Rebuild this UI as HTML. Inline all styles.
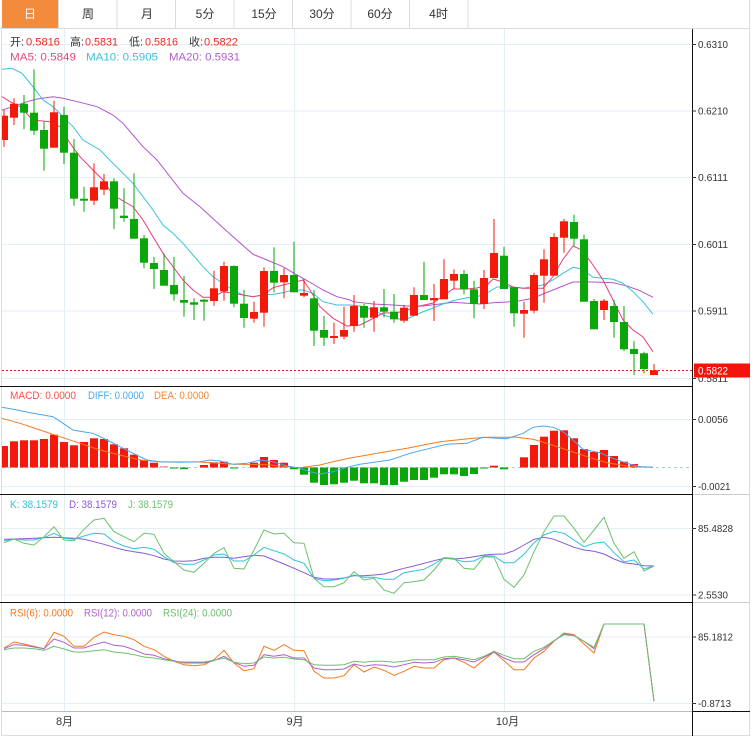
<!DOCTYPE html>
<html><head><meta charset="utf-8"><style>
html,body{margin:0;padding:0;background:#fff;}
svg{display:block;}
text{font-family:"Liberation Sans","Noto Sans CJK SC",sans-serif;}
</style></head><body>
<svg width="756" height="741" viewBox="0 0 756 741" xmlns="http://www.w3.org/2000/svg">
<rect x="0" y="0" width="756" height="741" fill="#fff"/>
<!-- tabs -->
<rect x="2" y="0" width="56.5" height="28" fill="#f38b3d"/>
<g stroke="#dcdcdc" stroke-width="1">
<line x1="58.5" y1="0" x2="58.5" y2="28"/><line x1="117" y1="0" x2="117" y2="28"/><line x1="175.5" y1="0" x2="175.5" y2="28"/><line x1="234" y1="0" x2="234" y2="28"/><line x1="292.5" y1="0" x2="292.5" y2="28"/><line x1="351" y1="0" x2="351" y2="28"/><line x1="409.5" y1="0" x2="409.5" y2="28"/><line x1="468" y1="0" x2="468" y2="28"/>
<line x1="0" y1="28.5" x2="750" y2="28.5"/>
<line x1="749.5" y1="0" x2="749.5" y2="736"/>
<line x1="1.5" y1="28" x2="1.5" y2="736"/>
<line x1="1" y1="735.5" x2="750" y2="735.5"/>
</g>
<g font-size="12" fill="#333" text-anchor="middle">
<text x="30" y="18" fill="#fff">日</text><text x="88" y="18">周</text><text x="147" y="18">月</text><text x="205" y="18">5分</text><text x="264" y="18">15分</text><text x="322" y="18">30分</text><text x="380" y="18">60分</text><text x="438.5" y="18">4时</text>
</g>
<!-- grid -->
<g stroke="#e4eef5" stroke-width="1">
<line x1="2" y1="44.5" x2="692" y2="44.5"/><line x1="2" y1="111" x2="692" y2="111"/><line x1="2" y1="177.5" x2="692" y2="177.5"/><line x1="2" y1="244.5" x2="692" y2="244.5"/><line x1="2" y1="311" x2="692" y2="311"/><line x1="2" y1="378.5" x2="692" y2="378.5"/>
<line x1="2" y1="419.5" x2="692" y2="419.5"/><line x1="2" y1="486.5" x2="692" y2="486.5"/>
<line x1="2" y1="528.5" x2="692" y2="528.5"/><line x1="2" y1="595" x2="692" y2="595"/>
<line x1="2" y1="637" x2="692" y2="637"/><line x1="2" y1="703.5" x2="692" y2="703.5"/>
<line x1="64.5" y1="29" x2="64.5" y2="711"/><line x1="294.5" y1="29" x2="294.5" y2="711"/><line x1="504.5" y1="29" x2="504.5" y2="711"/>
</g>
<!-- separators -->
<g stroke="#111" stroke-width="1">
<line x1="0" y1="386.5" x2="692" y2="386.5"/><line x1="0" y1="494.5" x2="692" y2="494.5"/><line x1="0" y1="602.5" x2="692" y2="602.5"/>
<line x1="692.5" y1="29" x2="692.5" y2="736"/>
<line x1="692" y1="711.5" x2="750" y2="711.5"/>
</g>
<line x1="2" y1="711.5" x2="692" y2="711.5" stroke="#bbb"/>
<g stroke="#ccc"><line x1="693" y1="494.5" x2="750" y2="494.5"/><line x1="693" y1="602.5" x2="750" y2="602.5"/></g>
<!-- axis ticks -->
<g stroke="#333" stroke-width="1">
<line x1="692" y1="44.5" x2="696" y2="44.5"/><line x1="692" y1="111" x2="696" y2="111"/><line x1="692" y1="177.5" x2="696" y2="177.5"/><line x1="692" y1="244.5" x2="696" y2="244.5"/><line x1="692" y1="311" x2="696" y2="311"/><line x1="692" y1="378.5" x2="696" y2="378.5"/>
<line x1="692" y1="419.5" x2="696" y2="419.5"/><line x1="692" y1="486.5" x2="696" y2="486.5"/>
<line x1="692" y1="528.5" x2="696" y2="528.5"/><line x1="692" y1="595" x2="696" y2="595"/>
<line x1="692" y1="637" x2="696" y2="637"/><line x1="692" y1="703.5" x2="696" y2="703.5"/>
</g>
<g font-size="10.5" fill="#333">
<text x="698" y="48" textLength="30" lengthAdjust="spacingAndGlyphs">0.6310</text>
<text x="698" y="114.5" textLength="30" lengthAdjust="spacingAndGlyphs">0.6210</text>
<text x="698" y="181" textLength="30" lengthAdjust="spacingAndGlyphs">0.6111</text>
<text x="698" y="248" textLength="30" lengthAdjust="spacingAndGlyphs">0.6011</text>
<text x="698" y="314.5" textLength="30" lengthAdjust="spacingAndGlyphs">0.5911</text>
<text x="698" y="382" textLength="30" lengthAdjust="spacingAndGlyphs">0.5811</text>
<text x="698" y="423" textLength="30" lengthAdjust="spacingAndGlyphs">0.0056</text>
<text x="698" y="490" textLength="32.5" lengthAdjust="spacingAndGlyphs">-0.0021</text>
<text x="698" y="532" textLength="35" lengthAdjust="spacingAndGlyphs">85.4828</text>
<text x="698" y="598.5" textLength="30" lengthAdjust="spacingAndGlyphs">2.5530</text>
<text x="698" y="640.5" textLength="35" lengthAdjust="spacingAndGlyphs">85.1812</text>
<text x="698" y="707" textLength="33" lengthAdjust="spacingAndGlyphs">-0.8713</text>
</g>
<!-- month labels -->
<g font-size="11" fill="#333" text-anchor="middle">
<text x="64.5" y="725">8月</text><text x="295" y="725">9月</text><text x="507.5" y="725">10月</text>
</g>
<!-- MA lines -->
<g fill="none" stroke-width="1">
<polyline stroke="#b254d0" points="2,110 13,106.7 27,101.7 37,99 53,96.7 63,98.3 80,102.3 97,106.7 113,115 123,123.3 133,135 143,146.7 157,160 170,176.7 183,193.3 200,206.7 217,222.3 233,236.7 253,254.3 267,260 283,266.7 293,272.7 303,278.3 313,284 323,290 337,296.7 350,300 353,301.7 373,304 393,305 407,306 423,306 440,304 453,302.3 467,303.3 480,304 493,302.7 507,302 520,300.7 533,298.3 543,294 553,290 563,286 573,282 593,282 613,282.7 627,286 640,290.7 653,297.3"/>
<polyline stroke="#35c4da" points="2,69.3 12,68.3 22,73.3 33,86.7 43,100 53,106.7 63,116.7 73,126.7 83,140 100,150 113,163.3 133,183.3 143,196.7 153,210 163,225 173,233.3 183,243.3 193,255 203,266.7 213,276.7 223,283.3 233,290 243,295 253,296.7 263,295 273,294.3 283,292.7 293,290 303,290 313,293.3 323,301.7 337,305 350,305 360,306 373,310 383,315 397,319 407,319 420,313 433,308 443,304 453,300.7 467,297.7 477,296.7 487,293 497,287 507,286.7 520,287.7 523,288.3 543,285 553,280 563,273.3 573,267.3 582,269 593,277.3 603,278.3 613,279.3 623,283.3 633,291.7 643,301.7 653,314.3"/>
<polyline stroke="#ea3d7a" points="2,96.7 10,101.7 20,106.7 33,120 50,121.7 60,126.7 70,143.3 80,156.7 93,170 103,180 113,195 133,206.7 143,220 153,236.7 163,253.3 173,266.7 183,280 193,290 203,297.3 213,297.3 223,291.7 233,293.3 243,295 253,296.7 263,295 273,287.7 283,285 293,282.7 303,280 310,290 320,306.7 333,318.3 347,326 360,325 370,320 383,313 397,312.7 407,310 420,306 433,303 440,298 453,289 467,289 477,288 487,285 493,279 503,282 513,287 523,288.3 543,288.3 553,276.7 563,259.3 573,246 582,250 593,265 603,280 613,300 623,320 633,330 643,337 653,351.7"/>
</g>
<!-- wicks -->
<path stroke="#f4190a" stroke-width="1" fill="none" d="M4 110V147M14 98.3V125M54 100.7V147.7M94 163.3V205M104 174V195M214 270.7V305.7M224 261.7V300.7M254 301.7V322.7M264 267.3V326.7M284 268.3V298.3M304 279V297.3M334 322.7V344M344 306.7V339.3M354 295V331.7M374 301V331.7M404 305V322.7M414 287.3V315.7M434 284V321M444 259.3V299.3M454 269.3V289.3M484 270V309M494 219V278M524 301.7V337.7M534 272.7V313.3M544 249.3V302.7M554 233.3V275.7M564 219V252.7M604 299V320M654 364V375"/>
<path stroke="#0aa60a" stroke-width="1" fill="none" d="M24 95V129.3M34 69.3V135M44 121.7V170.7M64 106.7V164M74 139V205.7M84 186.7V211.7M114 178.3V229M124 188.3V221.7M134 173.3V238.7M144 235V268.3M154 256.7V289M164 253.3V285.7M174 256.7V300.7M184 276V316.7M194 298.3V320M204 298.7V320.7M234 265.3V307.3M244 290V327.7M274 247.3V292.3M294 241.7V292.3M314 290V346M324 316V346M364 304V327.7M384 289V317.3M394 294V322.7M424 261.7V300M464 270V294.3M474 280.7V318.3M504 246.7V289M514 287.3V326.7M574 214.7V245.7M584 234.7V301.7M594 299V329.3M614 300V337.7M624 306V351M634 341V375M644 351.7V373.3"/>
<!-- red bodies -->
<g fill="#f4190a">
<rect x="2" y="115.7" width="6" height="24.3"/><rect x="10" y="103.7" width="8" height="14"/><rect x="50" y="112.3" width="8" height="35.4"/><rect x="90" y="187.3" width="8" height="13.4"/><rect x="100" y="181.3" width="8" height="8.4"/><rect x="210" y="288.3" width="8" height="12.7"/><rect x="220" y="266" width="8" height="25.3"/><rect x="250" y="312" width="8" height="6.7"/><rect x="260" y="271" width="8" height="41.7"/><rect x="280" y="275" width="8" height="7.3"/><rect x="300" y="293" width="8" height="2.7"/><rect x="330" y="336" width="8" height="2"/><rect x="340" y="330" width="8" height="6.7"/><rect x="350" y="306" width="8" height="20"/><rect x="370" y="307.3" width="8" height="10.4"/><rect x="400" y="307.7" width="8" height="13"/><rect x="410" y="295" width="8" height="20.7"/><rect x="430" y="298" width="8" height="2.3"/><rect x="440" y="279" width="8" height="20.3"/><rect x="450" y="274" width="8" height="6.7"/><rect x="480" y="278" width="8" height="26"/><rect x="490" y="253" width="8" height="25"/><rect x="520" y="310" width="8" height="3.7"/><rect x="530" y="275" width="8" height="35.7"/><rect x="540" y="259.3" width="8" height="16.4"/><rect x="550" y="237" width="8" height="38.7"/><rect x="560" y="221.3" width="8" height="16.4"/><rect x="600" y="300.7" width="8" height="9.3"/><rect x="650" y="370.3" width="8" height="4.7"/>
</g>
<!-- green bodies -->
<g fill="#0aa60a">
<rect x="20" y="103.7" width="8" height="9"/><rect x="30" y="112.7" width="8" height="18"/><rect x="40" y="130" width="8" height="18.7"/><rect x="60" y="115" width="8" height="37.7"/><rect x="70" y="152.7" width="8" height="46"/><rect x="80" y="198.7" width="8" height="2"/><rect x="110" y="181.3" width="8" height="27.4"/><rect x="120" y="215.7" width="8" height="2.3"/><rect x="130" y="219" width="8" height="19.7"/><rect x="140" y="238.3" width="8" height="24.4"/><rect x="150" y="263" width="8" height="6"/><rect x="160" y="270" width="8" height="15.7"/><rect x="170" y="285" width="8" height="9.3"/><rect x="180" y="300" width="8" height="2.7"/><rect x="190" y="302.3" width="8" height="2.4"/><rect x="200" y="299.7" width="8" height="2"/><rect x="230" y="266" width="8" height="37.7"/><rect x="240" y="303.7" width="8" height="14.3"/><rect x="270" y="271" width="8" height="11.7"/><rect x="290" y="275" width="8" height="17.3"/><rect x="310" y="298.3" width="8" height="32.4"/><rect x="320" y="330" width="8" height="7.7"/><rect x="360" y="306" width="8" height="11.7"/><rect x="380" y="307.3" width="8" height="4.4"/><rect x="390" y="311.7" width="8" height="7.6"/><rect x="420" y="295" width="8" height="5"/><rect x="460" y="274" width="8" height="15.3"/><rect x="470" y="289.3" width="8" height="14.7"/><rect x="500" y="255.7" width="8" height="33.3"/><rect x="510" y="287.3" width="8" height="26"/><rect x="570" y="222" width="8" height="16.7"/><rect x="580" y="239.3" width="8" height="62.4"/><rect x="590" y="301" width="8" height="28.3"/><rect x="610" y="306" width="8" height="16"/><rect x="620" y="322" width="8" height="27.3"/><rect x="630" y="349" width="8" height="5"/><rect x="640" y="353.3" width="8" height="15.7"/>
</g>
<!-- current price line -->
<line x1="2" y1="370.5" x2="692" y2="370.5" stroke="#f4190a" stroke-width="1" stroke-dasharray="2,2"/>
<rect x="694" y="363.5" width="56" height="14" fill="#f5120a"/>
<text x="698" y="374.5" font-size="11" fill="#fff" textLength="30" lengthAdjust="spacingAndGlyphs">0.5822</text>
<!-- main legend -->
<g font-size="11">
<text x="10" y="45.5" fill="#333">开:</text><text x="26" y="45.5" fill="#f0281e" textLength="34" lengthAdjust="spacingAndGlyphs">0.5816</text>
<text x="70" y="45.5" fill="#333">高:</text><text x="85" y="45.5" fill="#f0281e" textLength="33" lengthAdjust="spacingAndGlyphs">0.5831</text>
<text x="129" y="45.5" fill="#333">低:</text><text x="145" y="45.5" fill="#f0281e" textLength="33" lengthAdjust="spacingAndGlyphs">0.5816</text>
<text x="189" y="45.5" fill="#333">收:</text><text x="204" y="45.5" fill="#f0281e" textLength="34" lengthAdjust="spacingAndGlyphs">0.5822</text>
<text x="10" y="60.5" fill="#e8457e" textLength="66" lengthAdjust="spacingAndGlyphs">MA5: 0.5849</text>
<text x="86" y="60.5" fill="#38c2d8" textLength="72" lengthAdjust="spacingAndGlyphs">MA10: 0.5905</text>
<text x="169" y="60.5" fill="#b25ccc" textLength="71" lengthAdjust="spacingAndGlyphs">MA20: 0.5931</text>
</g>
<!-- MACD -->
<line x1="2" y1="467.5" x2="692" y2="467.5" stroke="#a8d4e4" stroke-width="1" stroke-dasharray="3,3"/>
<g fill="#f4190a">
<rect x="2" y="446" width="6" height="21.5"/><rect x="10" y="441.3" width="8" height="26.2"/><rect x="20" y="440.3" width="8" height="27.2"/><rect x="30" y="440.3" width="8" height="27.2"/><rect x="40" y="439" width="8" height="28.5"/><rect x="50" y="434.7" width="8" height="32.8"/><rect x="60" y="442" width="8" height="25.5"/><rect x="70" y="445.3" width="8" height="22.2"/><rect x="80" y="442" width="8" height="25.5"/><rect x="90" y="438.3" width="8" height="29.2"/><rect x="100" y="439" width="8" height="28.5"/><rect x="110" y="444.3" width="8" height="23.2"/><rect x="120" y="448.3" width="8" height="19.2"/><rect x="130" y="454.7" width="8" height="12.8"/><rect x="140" y="460" width="8" height="7.5"/><rect x="150" y="462.7" width="8" height="4.8"/><rect x="160" y="466" width="8" height="1.5" fill="#f8a0a0"/><rect x="200" y="465" width="8" height="2.5"/><rect x="210" y="462.3" width="8" height="5.2"/><rect x="220" y="461.7" width="8" height="5.8"/><rect x="250" y="462.7" width="8" height="4.8"/><rect x="260" y="457" width="8" height="10.5"/><rect x="270" y="460" width="8" height="7.5"/><rect x="280" y="462.7" width="8" height="4.8"/><rect x="490" y="465.7" width="8" height="1.8"/><rect x="520" y="457.3" width="8" height="10.2"/><rect x="530" y="445" width="8" height="22.5"/><rect x="540" y="436.7" width="8" height="30.8"/><rect x="550" y="430.7" width="8" height="36.8"/><rect x="560" y="430.3" width="8" height="37.2"/><rect x="570" y="438.3" width="8" height="29.2"/><rect x="580" y="449" width="8" height="18.5"/><rect x="590" y="452" width="8" height="15.5"/><rect x="600" y="450" width="8" height="17.5"/><rect x="610" y="456" width="8" height="11.5"/><rect x="620" y="461.7" width="8" height="5.8"/><rect x="630" y="464" width="8" height="3.5"/>
</g>
<g fill="#0aa60a">
<rect x="170" y="467.5" width="8" height="1"/><rect x="180" y="467.5" width="8" height="1.7"/><rect x="230" y="467.5" width="8" height="1"/><rect x="290" y="467.5" width="8" height="1.7"/><rect x="300" y="467.5" width="8" height="7.2"/><rect x="310" y="467.5" width="8" height="15.2"/><rect x="320" y="467.5" width="8" height="17.5"/><rect x="330" y="467.5" width="8" height="16.8"/><rect x="340" y="467.5" width="8" height="15.2"/><rect x="350" y="467.5" width="8" height="13.2"/><rect x="360" y="467.5" width="8" height="15.8"/><rect x="370" y="467.5" width="8" height="15.8"/><rect x="380" y="467.5" width="8" height="17.5"/><rect x="390" y="467.5" width="8" height="17.5"/><rect x="400" y="467.5" width="8" height="14.2"/><rect x="410" y="467.5" width="8" height="12.5"/><rect x="420" y="467.5" width="8" height="12.5"/><rect x="430" y="467.5" width="8" height="10.2"/><rect x="440" y="467.5" width="8" height="6.8"/><rect x="450" y="467.5" width="8" height="6.8"/><rect x="460" y="467.5" width="8" height="8.5"/><rect x="470" y="467.5" width="8" height="6.5"/><rect x="480" y="467.5" width="8" height="1"/><rect x="500" y="467.5" width="8" height="1.8"/>
</g>
<g fill="none" stroke-width="1">
<polyline stroke="#f47a20" points="2,418.3 20,423.3 40,430 60,436.7 80,443.3 100,450 120,455 140,460 160,461.7 200,462 233,464.3 267,464.7 287,466.7 300,467.7 320,465 333,461.7 349,458.3 373,454 407,448.3 440,441.7 473,438.3 487,437.3 517,437.3 533,439.3 547,443.3 567,450 587,456.7 607,462.7 627,466 653,467.3"/>
<polyline stroke="#4aa6f0" points="2,407.3 13,409.3 33,413.3 53,416.7 63,423.3 73,430 83,431.7 93,433.3 107,440 120,446.7 133,453.3 147,460 160,461.7 180,462.3 200,461.7 210,460 220,461 233,464.3 247,463.3 260,460 273,461.7 287,466 300,468.3 310,471.7 320,474 333,471.7 347,467.3 360,464.3 390,460 410,453.3 430,448.3 447,444.3 467,443.3 483,437.3 497,438.3 507,438.7 523,433.3 533,427.3 543,426 553,427.3 563,431.7 573,440 583,449.3 600,452.7 613,458.3 627,463.3 640,466.7 653,467.3"/>
</g>
<g font-size="11">
<text x="10" y="399" fill="#f05548" textLength="66" lengthAdjust="spacingAndGlyphs">MACD: 0.0000</text>
<text x="88" y="399" fill="#4aa8f0" textLength="56" lengthAdjust="spacingAndGlyphs">DIFF: 0.0000</text>
<text x="154" y="399" fill="#f08838" textLength="55" lengthAdjust="spacingAndGlyphs">DEA: 0.0000</text>
</g>
<!-- KDJ -->
<g fill="none" stroke-width="1">
<polyline stroke="#8a58d8" points="4,539.3 14,539 24,538.7 34,538.3 44,537.7 54,537.3 64,537.7 74,538.3 84,539.3 94,541.7 104,544.3 114,547.3 124,550 134,551.7 144,553.3 154,555.7 164,559 174,561 184,561.3 194,560.7 204,558.3 214,557.3 224,557.3 234,558.3 244,556.7 254,555.3 264,556 274,560 284,564 294,568.3 304,572.7 314,577.3 324,579 334,579 344,578 354,575.7 364,575.7 374,575 384,574 394,571 404,568.3 414,566 424,563.3 434,560.7 444,558.3 454,559 464,558.3 474,556.7 484,555 494,554.3 504,554 514,550.7 524,545 534,539.3 544,537.3 554,539.3 564,543.3 574,547.3 584,550 594,551.3 604,554 614,559 624,562.7 634,564 644,565.7 654,566"/>
<polyline stroke="#2ec4d8" points="4,540.7 14,539.3 24,540 34,540 44,537.7 54,533.3 64,538.3 74,539.3 84,536 94,533.3 104,534 114,541.7 124,546 134,548.7 144,547.3 154,549.3 164,556.7 174,562.7 184,564.3 194,564.3 204,560 214,555 224,554 234,561 244,561 254,555 264,547.3 274,550.7 284,554 294,560 304,563.3 314,578.3 324,580.7 334,580 344,578.3 354,575 364,577.3 374,577.3 384,579.3 394,579.3 404,572.7 414,571 424,569.3 434,564 444,558 454,559.3 464,561.7 474,561 484,556 494,556 504,562.7 514,562.7 524,554.3 534,542.7 544,535 554,531.3 564,533.3 574,540 584,546.7 594,543.3 604,542 614,552.7 624,561.7 634,560 644,569 654,566"/>
<polyline stroke="#6cc06c" points="4,542.7 14,539 24,543.3 34,545 44,536.7 54,526.7 64,540 74,540.7 84,529.3 94,520 104,518.3 114,531.7 124,536.7 134,541.7 144,533.3 154,534.3 164,553.3 174,561.7 184,570 194,572.3 204,563.3 214,553.3 224,547.7 234,568.3 244,569 254,550 264,530 274,534 284,533.3 294,542.7 304,543.3 314,578.3 324,586.7 334,586.7 344,582.7 354,571.7 364,580 374,578.3 384,590 394,593.3 404,582.7 414,581.7 424,580 434,570 444,557.7 454,558.3 464,568.3 474,569.3 484,556.7 494,557.3 504,579.3 514,587.3 524,575 534,551.7 544,531.7 554,516 564,516 574,528.3 584,542.3 594,530 604,517.3 614,543.3 624,558.3 634,551.7 644,571 654,566"/>
</g>
<g font-size="11">
<text x="10" y="508" fill="#2ec4d8" textLength="48" lengthAdjust="spacingAndGlyphs">K: 38.1579</text>
<text x="69" y="508" fill="#8a58d8" textLength="48" lengthAdjust="spacingAndGlyphs">D: 38.1579</text>
<text x="128" y="508" fill="#6cc06c" textLength="45" lengthAdjust="spacingAndGlyphs">J: 38.1579</text>
</g>
<!-- RSI -->
<g fill="none" stroke-width="1">
<polyline stroke="#f47a20" points="4,648 14,642 24,644 34,646.3 44,648.7 54,632.3 64,636.3 74,646.3 84,646.3 94,637.3 104,632 114,634.7 124,636.3 134,639.7 144,646.3 154,649.7 164,656.3 174,661.3 184,664.7 194,665.7 204,664.7 214,659.7 224,650.3 234,663 244,670.7 254,668.7 264,646.3 274,650.3 284,644.7 294,650.3 304,650.7 314,671.3 324,678 334,678 344,675.7 354,664.7 364,672 374,667 384,670.3 394,675.3 404,671.3 414,666.3 424,668 434,668 444,659.7 454,658 464,662.3 474,668 484,659.7 494,652 504,660.7 514,669.7 524,669.7 534,658 544,651.3 554,641.3 564,633 574,634.7 584,644 594,653 604,624 614,624 624,624 634,624 644,624 654,701.3"/>
<polyline stroke="#b060d0" points="4,648.7 14,644.7 24,645.3 34,647 44,648.7 54,639 64,642.3 74,648 84,648 94,644.7 104,642 114,645.3 124,646.3 134,649.7 144,654 154,655.3 164,658.7 174,660.7 184,663 194,663 204,663 214,660.7 224,656.3 234,662.3 244,666.3 254,665.3 264,654.7 274,656.3 284,654.7 294,658 304,658 314,668 324,669.7 334,669.7 344,669 354,664 364,666.3 374,664.7 384,665.3 394,667 404,664.7 414,662.3 424,663 434,662.3 444,658.7 454,658 464,659.7 474,662 484,657.3 494,652 504,658 514,662 524,662 534,654.7 544,648.7 554,640.7 564,634 574,635.3 584,641.3 594,648.7 604,624 614,624 624,624 634,624 644,624 654,701.3"/>
<polyline stroke="#6cc06c" points="4,649.7 14,648 24,648 34,648.7 44,650.3 54,646.3 64,649 74,652 84,652 94,650.7 104,649.7 114,652 124,653 134,654.7 144,657 154,658 164,659.7 174,661.3 184,662 194,662 204,662 214,660.3 224,658 234,662.3 244,663.7 254,663 264,657 274,658 284,657.3 294,659 304,659.7 314,664.7 324,665.3 334,665.3 344,664.7 354,661.3 364,662.3 374,661.3 384,661.3 394,662.3 404,661.3 414,659.7 424,659.7 434,659.7 444,657 454,656.3 464,658 474,659.7 484,656.3 494,651.3 504,655.3 514,658.7 524,658.7 534,651.3 544,647.3 554,640.7 564,634.7 574,635.7 584,641.3 594,647.3 604,624 614,624 624,624 634,624 644,624 654,701.3"/>
</g>
<g font-size="11">
<text x="10" y="616.5" fill="#f47a20" textLength="63" lengthAdjust="spacingAndGlyphs">RSI(6): 0.0000</text>
<text x="84" y="616.5" fill="#b060d0" textLength="68" lengthAdjust="spacingAndGlyphs">RSI(12): 0.0000</text>
<text x="163" y="616.5" fill="#6cc06c" textLength="69" lengthAdjust="spacingAndGlyphs">RSI(24): 0.0000</text>
</g>
</svg>
</body></html>
